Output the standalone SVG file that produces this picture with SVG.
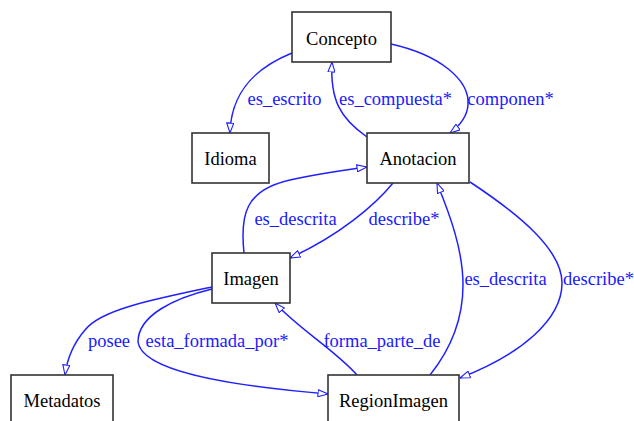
<svg xmlns="http://www.w3.org/2000/svg" width="634" height="421" viewBox="0 0 634 421">
<style>
.node rect{fill:#ffffff;stroke:#333333;stroke-width:1.6}
.node text{font-family:'Liberation Serif','Times New Roman',serif;font-size:18.5px;fill:#000000;text-anchor:middle}
.edge path{fill:none;stroke:#2020ff;stroke-width:1.5;marker-end:url(#arr)}
.lbl{font-family:'Liberation Serif','Times New Roman',serif;font-size:18.5px;fill:#1a1aff;text-anchor:middle}
</style>
<defs>
<marker id="arr" viewBox="0 0 11 8" refX="10.5" refY="4" markerWidth="11" markerHeight="8" markerUnits="userSpaceOnUse" orient="auto">
<path d="M0.5,0.5 L10.5,4 L0.5,7.5 Z" fill="#ffffff" stroke="#2020ff" stroke-width="1.1"/>
</marker>
</defs>
<rect width="634" height="421" fill="#ffffff"/>
<g id="edges" class="edge">
<path d="M292,53 C255,68 231,92 230,133"/>
<path d="M367,137 C340,118 330,100 332,62"/>
<path d="M391,44 C440,55 470,80 468,105 C467,118 458,127 450,133"/>
<path d="M244,253 C240,215 245,190 290,180 C320,173 345,170 367,167"/>
<path d="M393,183 C375,205 340,235 290,258"/>
<path d="M212,287 C150,300 100,310 85,330 C72,345 67,360 65,375"/>
<path d="M212,289 C175,298 138,315 138,342 C142,370 220,385 328,394"/>
<path d="M357,375 C335,350 300,330 275,303"/>
<path d="M430,375 C450,350 463,320 463,285 C463,250 450,215 437,183"/>
<path d="M470,182 C520,215 562,250 562,283 C562,320 520,355 460,378"/>
</g>
<g id="edge-labels">
<text class="lbl" x="284.5" y="105">es_escrito</text>
<text class="lbl" x="395.5" y="105">es_compuesta*</text>
<text class="lbl" x="510.5" y="105">componen*</text>
<text class="lbl" x="295.5" y="225">es_descrita</text>
<text class="lbl" x="404" y="225">describe*</text>
<text class="lbl" x="505.5" y="285">es_descrita</text>
<text class="lbl" x="598.5" y="285">describe*</text>
<text class="lbl" x="109" y="347">posee</text>
<text class="lbl" x="217" y="347">esta_formada_por*</text>
<text class="lbl" x="382" y="347">forma_parte_de</text>
</g>
<g id="Concepto" class="node"><rect x="292" y="12" width="99" height="50"/><text x="341.5" y="45">Concepto</text></g>
<g id="Idioma" class="node"><rect x="192" y="133" width="77" height="50"/><text x="230.5" y="165">Idioma</text></g>
<g id="Anotacion" class="node"><rect x="367" y="133" width="102" height="50"/><text x="418" y="165">Anotacion</text></g>
<g id="Imagen" class="node"><rect x="212" y="253" width="78" height="50"/><text x="251" y="285">Imagen</text></g>
<g id="Metadatos" class="node"><rect x="11" y="375" width="102" height="50"/><text x="62" y="407">Metadatos</text></g>
<g id="RegionImagen" class="node"><rect x="328" y="375" width="131" height="50"/><text x="393.5" y="407">RegionImagen</text></g>
</svg>
